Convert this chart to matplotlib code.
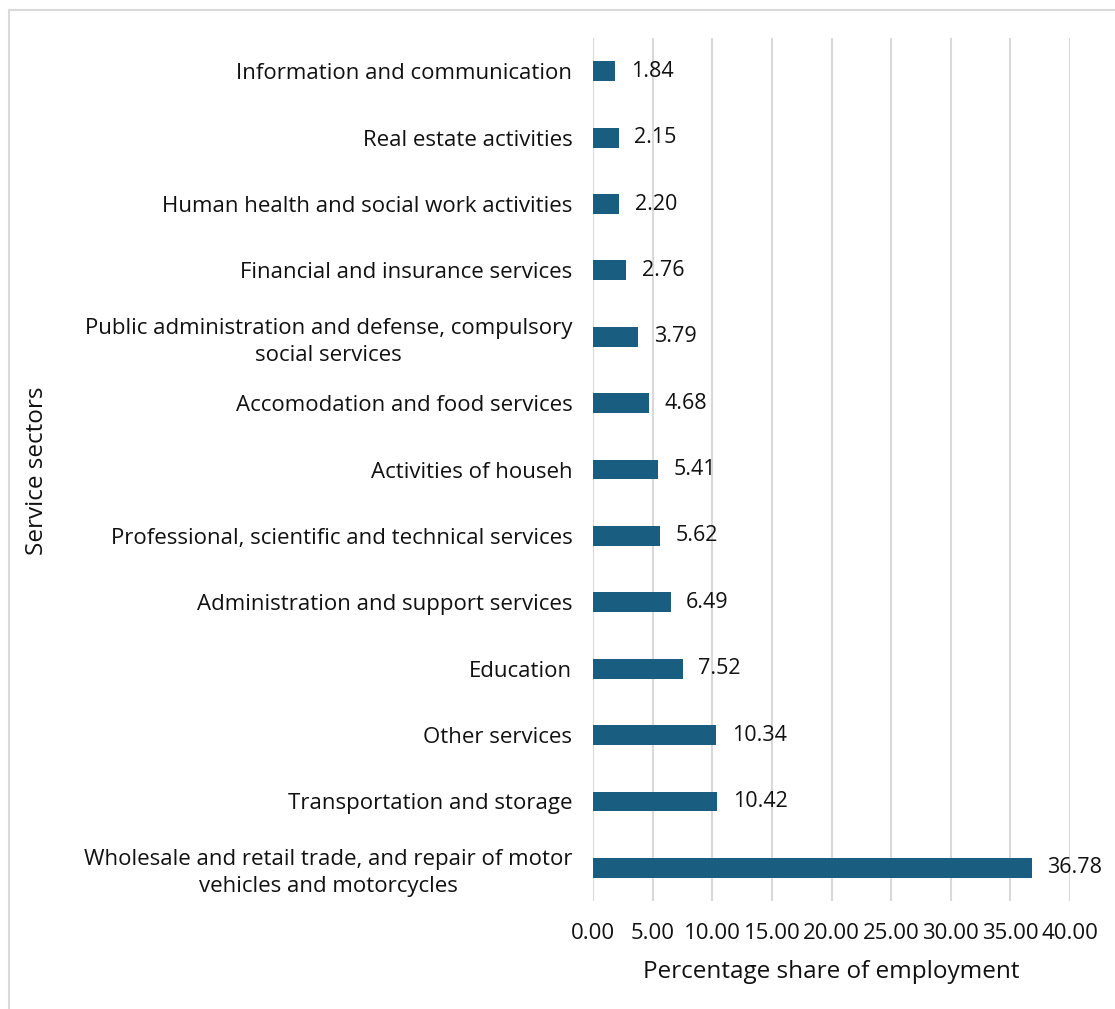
import matplotlib.pyplot as plt
from matplotlib.patches import Rectangle

sectors = [
    "Wholesale and retail trade, and repair of motor\nvehicles and motorcycles",
    "Transportation and storage",
    "Other services",
    "Education",
    "Administration and support services",
    "Professional, scientific and technical services",
    "Activities of househ",
    "Accomodation and food services",
    "Public administration and defense, compulsory\nsocial services",
    "Financial and insurance services",
    "Human health and social work activities",
    "Real estate activities",
    "Information and communication",
]
shares = [36.78, 10.42, 10.34, 7.52, 6.49, 5.62, 5.41, 4.68, 3.79, 2.76, 2.20, 2.15, 1.84]
xticks = [0, 5, 10, 15, 20, 25, 30, 35, 40]

plt.rcParams['font.family'] = ['Open Sans', 'DejaVu Sans']

fig = plt.figure(figsize=(11.15, 10.09), dpi=100)
ax = fig.add_axes([0.532, 0.107, 0.4276, 0.8553])

ypos = list(range(len(sectors)))
ax.barh(ypos, shares, height=0.3, color='#195E80', zorder=3)
for y, v in zip(ypos, shares):
    ax.text(v + 1.3, y, f"{v:.2f}", va='center', ha='left', fontsize=15.5, color='#111111')

ax.set_xlim(0, 40)
ax.set_ylim(-0.5, len(sectors) - 0.5)
ax.set_yticks(ypos)
ax.set_yticklabels(sectors, fontsize=16, color='#111111', ha='right', linespacing=1.35)
for lbl in ax.get_yticklabels():
    lbl.set_multialignment('center')
ax.set_xticks(xticks)
ax.set_xticklabels([f"{t:.2f}" for t in xticks], fontsize=16, color='#111111')
ax.tick_params(axis='both', length=0)
ax.tick_params(axis='x', pad=16)
ax.tick_params(axis='y', pad=15)
ax.grid(axis='x', color='#d9d9d9', linewidth=1.5, zorder=0)
for s in ax.spines.values():
    s.set_visible(False)

ax.set_xlabel("Percentage share of employment", fontsize=17.5, color='#111111', labelpad=11)
fig.text(0.033, 0.533, "Service sectors", rotation=90, fontsize=17.5, color='#111111',
         ha='center', va='center')

fig.patches.append(Rectangle((9 / 1115, -0.05), 1.2, 0.9901 + 0.05, transform=fig.transFigure,
                             fill=False, edgecolor='#d9d9d9', linewidth=1.5))

fig.savefig('out.png', dpi=100)
